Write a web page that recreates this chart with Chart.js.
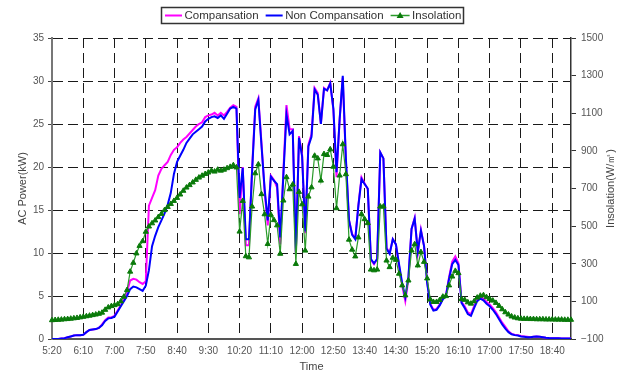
<!DOCTYPE html>
<html>
<head>
<meta charset="utf-8">
<title>AC Power and Insolation</title>
<script src="https://cdn.jsdelivr.net/npm/chart.js@4"></script>
<style>
  html, body { margin: 0; padding: 0; background: #fff; }
  #wrap { width: 633px; height: 374px; }
</style>
</head>
<body>
<div id="wrap"><canvas id="chart" width="633" height="374"></canvas></div>
<script>
// 5-minute samples, 5:20 .. 19:10
const startMinutes = 5 * 60 + 20;
const stepMinutes = 5;
const pointCount = 167;
const timeLabels = [];
for (let i = 0; i < pointCount; i++) {
  const m = startMinutes + i * stepMinutes;
  timeLabels.push(Math.floor(m / 60) + ":" + String(m % 60).padStart(2, "0"));
}

const tickLabels = ["5:20", "6:10", "7:00", "7:50", "8:40", "9:30", "10:20", "11:10", "12:00",
                    "12:50", "13:40", "14:30", "15:20", "16:10", "17:00", "17:50", "18:40"];

const seriesNames = ["Compansation", "Non Compansation", "Insolation"];

// AC power, kW
const compansation = [
  0, 0, 0, 0.05, 0.1, 0.2, 0.3, 0.4, 0.45, 0.45,
  0.5, 0.8, 1.05, 1.1, 1.15, 1.3, 1.7, 2.2, 2.5, 2.5,
  2.7, 3.3, 3.9, 4.6, 5.5, 6.8, 7.0, 6.9, 6.6, 6.4,
  6.7, 15.5, 16.4, 17.3, 19.0, 19.8, 20.2, 20.6, 21.4, 22.0,
  22.3, 22.8, 23.2, 23.5, 23.9, 24.3, 24.7, 25.0, 25.2, 25.8,
  26.0, 26.1, 26.3, 26.0, 26.3, 26.0, 26.4, 26.9, 27.2, 27.0,
  14.5, 20.0, 10.9, 10.9, 19.8, 27.0, 28.0, 22.8, 17.2, 13.2,
  19.0, 18.5, 17.6, 11.0, 19.5, 27.2, 24.4, 24.4, 10.0, 23.6,
  21.4, 12.3, 22.6, 23.8, 29.2, 28.6, 25.0, 29.2, 28.9, 29.8,
  26.6, 18.8, 25.6, 30.4, 20.6, 13.8, 12.2, 11.7, 15.6, 18.8,
  18.1, 17.4, 9.2, 8.7, 9.3, 21.7, 21.0, 10.6, 10.0, 11.6,
  11.0, 8.5, 6.2, 4.4, 7.0, 12.8, 14.1, 10.0, 12.7, 10.8,
  6.6, 4.1, 3.4, 3.5, 4.0, 4.7, 5.1, 7.2, 9.0, 9.6,
  8.8, 4.3, 3.8, 3.1, 2.9, 3.8, 4.6, 4.9, 4.7, 4.3,
  4.0, 3.6, 3.1, 2.5, 1.9, 1.4, 0.9, 0.6, 0.5, 0.45,
  0.35, 0.3, 0.25, 0.2, 0.25, 0.3, 0.25, 0.2, 0.15, 0.12,
  0.1, 0.1, 0.08, 0.05, 0.05, 0.05, 0.05
];

const nonCompansation = [
  0, 0, 0, 0.05, 0.1, 0.2, 0.3, 0.4, 0.45, 0.45,
  0.5, 0.8, 1.05, 1.1, 1.15, 1.3, 1.6, 2.1, 2.4, 2.45,
  2.6, 3.2, 3.8, 4.4, 5.0, 5.8, 6.1, 6.0, 5.8, 5.6,
  6.2, 8.0, 10.8, 12.0, 13.0, 13.8, 14.6, 15.6, 17.0, 19.2,
  20.6, 21.3, 22.0, 22.8, 23.3, 23.8, 24.1, 24.4, 24.7, 25.3,
  25.6, 25.8, 25.9, 25.7, 26.0, 25.6, 26.2, 26.8, 27.0, 26.8,
  16.4, 19.9, 11.6, 11.6, 19.5, 26.7, 27.8, 22.5, 17.5, 13.8,
  18.9, 18.4, 18.0, 11.8, 19.0, 26.1, 23.8, 24.2, 10.1, 23.4,
  21.2, 12.5, 22.4, 23.5, 29.0, 28.4, 25.0, 29.1, 28.9, 29.7,
  26.8, 19.4, 25.5, 30.6, 21.0, 13.8, 12.1, 11.6, 15.5, 18.6,
  18.0, 17.5, 9.3, 8.8, 9.3, 21.7, 21.0, 10.5, 9.9, 11.6,
  11.0, 8.7, 6.5, 4.9, 7.2, 12.8, 14.0, 10.2, 12.6, 10.8,
  6.5, 4.0, 3.3, 3.4, 3.9, 4.6, 5.0, 7.0, 8.7, 9.2,
  8.6, 4.2, 3.6, 2.9, 2.7, 3.6, 4.4, 4.7, 4.5, 4.1,
  3.8, 3.4, 2.9, 2.3, 1.7, 1.2, 0.8, 0.55, 0.45, 0.4,
  0.3, 0.25, 0.2, 0.2, 0.25, 0.3, 0.25, 0.2, 0.15, 0.12,
  0.1, 0.1, 0.08, 0.05, 0.05, 0.05, 0.05
];

// insolation, W/m2
const insolation = [
  0, 1, 2, 3, 5, 6, 8, 10, 12, 15,
  18, 21, 24, 27, 30, 34, 40, 55, 68, 75,
  80, 85, 100, 125, 160, 258, 305, 355, 395, 420,
  470, 498, 515, 530, 548, 565, 585, 602, 618, 634,
  650, 668, 688, 705, 718, 732, 746, 758, 768, 777,
  785, 795, 790, 800, 795, 800, 808, 815, 824, 812,
  471, 634, 340, 334, 604, 781, 828, 670, 563, 405,
  560, 532, 504, 353, 636, 760, 696, 721, 299, 682,
  616, 370, 657, 706, 874, 860, 742, 883, 878, 908,
  816, 595, 769, 935, 776, 428, 375, 339, 440, 564,
  537, 516, 269, 265, 269, 604, 604, 317, 282, 332,
  321, 247, 185, 132, 211, 370, 404, 291, 362, 310,
  222, 110, 97, 97, 107, 125, 128, 185, 232, 262,
  250, 112, 108, 95, 88, 100, 120, 130, 133, 122,
  113, 104, 92, 76, 58, 42, 30, 20, 14, 10,
  8, 7, 7, 6, 6, 5, 5, 5, 4, 4,
  4, 3, 3, 3, 2, 2, 2
];

const FONT = '"Liberation Sans", Arial, sans-serif';
const MAGENTA = "#ff00ff";
const BLUE = "#0000ff";
const GREEN_LINE = "#2a9a2a";
const GREEN_MARK = "#0a7a0a";

// legend in a framed box above the plot
const legendBox = {
  id: "legendBox",
  afterDraw(chart) {
    const ctx = chart.ctx;
    ctx.save();
    ctx.fillStyle = "#fff";
    ctx.fillRect(161, 7, 303, 17);
    ctx.strokeStyle = "#333";
    ctx.lineWidth = 1.5;
    ctx.strokeRect(161.5, 7.5, 302, 16);

    const items = [
      { text: seriesNames[0], color: MAGENTA, len: 17, width: 2 },
      { text: seriesNames[1], color: BLUE, len: 17, width: 2 },
      { text: seriesNames[2], color: GREEN_LINE, len: 19, width: 1.5, marker: true }
    ];
    const y = 15.5;
    let x = 165;
    ctx.font = "11.5px " + FONT;
    ctx.textBaseline = "middle";
    items.forEach(it => {
      ctx.strokeStyle = it.color;
      ctx.lineWidth = it.width;
      ctx.beginPath();
      ctx.moveTo(x, y);
      ctx.lineTo(x + it.len, y);
      ctx.stroke();
      if (it.marker) {
        const cx = x + it.len / 2;
        ctx.fillStyle = GREEN_MARK;
        ctx.beginPath();
        ctx.moveTo(cx, y - 3.5);
        ctx.lineTo(cx + 3.5, y + 2.5);
        ctx.lineTo(cx - 3.5, y + 2.5);
        ctx.closePath();
        ctx.fill();
      }
      x += it.len + 2.5;
      ctx.fillStyle = "#333";
      ctx.fillText(it.text, x, y + 0.5);
      x += ctx.measureText(it.text).width + 7;
    });
    ctx.restore();
  }
};

// right axis title reads bottom-to-top like the left one
const rightTitle = {
  id: "rightTitle",
  afterDraw(chart) {
    const ctx = chart.ctx;
    const area = chart.chartArea;
    ctx.save();
    ctx.translate(611, (area.top + area.bottom) / 2);
    ctx.rotate(-Math.PI / 2);
    ctx.font = "11px " + FONT;
    ctx.fillStyle = "#444";
    ctx.textAlign = "center";
    ctx.textBaseline = "middle";
    ctx.fillText("Insolation(W/\u33A1)", 0, 0);
    ctx.restore();
  }
};

new Chart(document.getElementById("chart"), {
  type: "line",
  data: {
    labels: timeLabels,
    datasets: [
      {
        label: seriesNames[2],
        data: insolation,
        yAxisID: "y2",
        borderColor: GREEN_LINE,
        borderWidth: 1.2,
        pointStyle: "triangle",
        pointRadius: 3,
        pointBackgroundColor: GREEN_MARK,
        pointBorderColor: GREEN_MARK,
        pointBorderWidth: 1,
        tension: 0,
        order: 0
      },
      {
        label: seriesNames[1],
        data: nonCompansation,
        yAxisID: "y",
        borderColor: BLUE,
        borderWidth: 2,
        pointRadius: 0,
        tension: 0,
        order: 1
      },
      {
        label: seriesNames[0],
        data: compansation,
        yAxisID: "y",
        borderColor: MAGENTA,
        borderWidth: 2,
        pointRadius: 0,
        tension: 0,
        order: 2
      }
    ]
  },
  options: {
    responsive: false,
    animation: false,
    events: [],
    layout: { padding: { top: 38, left: 0, right: 0, bottom: 0 } },
    plugins: {
      legend: { display: false },
      tooltip: { enabled: false }
    },
    scales: {
      x: {
        type: "category",
        offset: false,
        grid: {
          color: c => (tickLabels.includes(timeLabels[c.index]) ? "#1a1a1a" : "rgba(0,0,0,0)"),
          lineWidth: 1,
          drawTicks: false
        },
        border: { color: "#555", width: 2, dash: [10, 5] },
        ticks: {
          autoSkip: false,
          maxRotation: 0,
          minRotation: 0,
          padding: 6,
          color: "#555",
          font: { family: FONT, size: 10 },
          callback: (v, i) => (tickLabels.includes(timeLabels[i]) ? timeLabels[i] : "")
        },
        title: { display: true, text: "Time", color: "#444", font: { family: FONT, size: 11 }, padding: 0 },
        afterFit: s => { s.height = 35; }
      },
      y: {
        position: "left",
        min: 0,
        max: 35,
        ticks: { stepSize: 5, padding: 4, color: "#555", font: { family: FONT, size: 10 } },
        grid: { color: "#1a1a1a", lineWidth: 1, drawTicks: true, tickLength: 4, tickColor: "#444", tickBorderDash: [] },
        border: { color: "#777", width: 2, dash: [10, 5] },
        title: { display: true, text: "AC Power(kW)", color: "#444", font: { family: FONT, size: 11 }, padding: { top: 16, bottom: 0 } },
        afterFit: s => { s.width = 52; }
      },
      y2: {
        position: "right",
        min: -100,
        max: 1500,
        ticks: {
          stepSize: 200,
          padding: 5,
          color: "#555",
          font: { family: FONT, size: 10 },
          callback: v => String(v).replace("-", "\u2212")
        },
        grid: { drawOnChartArea: false, drawTicks: true, tickLength: 5, tickColor: "#333", tickBorderDash: [] },
        border: { color: "#333", width: 1.5 },
        afterFit: s => { s.width = 62; }
      }
    }
  },
  plugins: [legendBox, rightTitle]
});
</script>
</body>
</html>
